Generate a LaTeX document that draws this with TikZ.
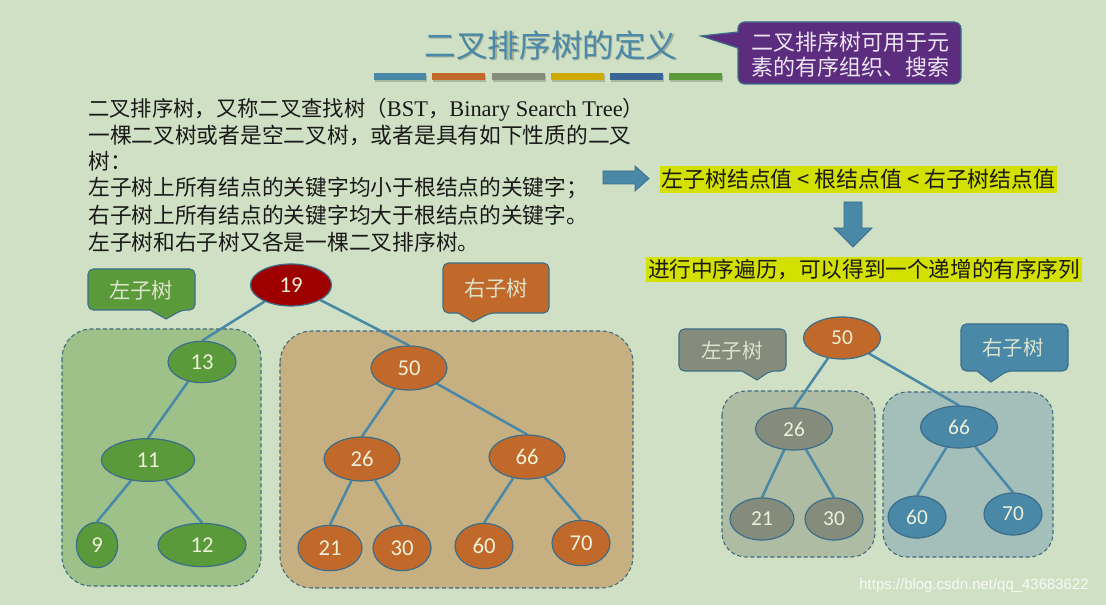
\documentclass[tikz,border=0pt]{standalone}
\usepackage{fontspec}
\setmainfont{Noto Sans CJK SC}
\newfontfamily\tms{Liberation Serif}
\newfontfamily\calf{Carlito}
\newfontfamily\arl{Liberation Sans}
\usetikzlibrary{shapes.geometric}
\pgfdeclarelayer{bgl}
\pgfdeclarelayer{edl}
\pgfsetlayers{bgl,edl,main}
\definecolor{bg}{HTML}{D0E0C4}
\definecolor{tblue}{HTML}{4A88A8}
\definecolor{torange}{HTML}{C0692A}
\definecolor{tgray}{HTML}{858C7C}
\definecolor{tgold}{HTML}{CFA800}
\definecolor{tdblue}{HTML}{3B6496}
\definecolor{tgreen}{HTML}{5A9A3A}
\definecolor{tred}{HTML}{9E0000}
\definecolor{tpurple}{HTML}{5C2C7E}
\definecolor{nborder}{HTML}{3C6E8A}
\definecolor{ntext}{HTML}{EEF0DA}
\definecolor{hl}{HTML}{D4E000}
\definecolor{lgbox}{HTML}{9EC18A}
\definecolor{rgbox}{HTML}{C6B082}
\definecolor{sgbox}{HTML}{ADBCA3}
\definecolor{sbbox}{HTML}{A4BEBA}
\definecolor{dashc}{HTML}{3E6A80}
\definecolor{calltext}{HTML}{DCE4CC}
\definecolor{purpletext}{HTML}{EDE6F2}
\tikzset{
  txt/.style={font=\fontsize{16.3}{20}\selectfont, inner sep=0pt, anchor=west, text=black!90},
  tn/.style={ellipse, draw=nborder, line width=0.9pt, inner sep=0pt, text=ntext, font=\calf\fontsize{17}{17}\selectfont},
  tns/.style={tn, font=\calf\fontsize{16}{16}\selectfont},
  edge/.style={draw=tblue, line width=1.9pt},
  grp/.style={draw=dashc, dash pattern=on 3pt off 2pt, line width=0.8pt},
  callbox/.style={draw=nborder, line width=0.8pt, rounded corners=4pt},
  calltxt/.style={text=calltext, font=\fontsize{16}{16}\selectfont, inner sep=0pt},
  hlbox/.style={fill=hl, inner xsep=1.5pt, inner ysep=0pt, text=black!90},
  blockarrow/.style={fill=tblue, draw=nborder, line width=0.6pt}
}
\begin{document}
\begin{tikzpicture}[x=0.75pt,y=-0.75pt]
\begin{pgfonlayer}{bgl}
\fill[bg] (0,0) rectangle (1106,605);
\end{pgfonlayer}
\useasboundingbox (0,0) rectangle (1106,605);

% title
\node[opacity=0.22, font=\fontsize{23.7}{24}\selectfont, inner sep=0pt, text=black] (titleshadow) at (552.3,46.3) {二叉排序树的定义};
\node[text=tblue, font=\fontsize{23.7}{24}\selectfont, inner sep=0pt] (title) at (551,45) {二叉排序树的定义};
% colour bars
\foreach \xa/\xb/\c in {374/426/tblue, 432/485/torange, 492/545/tgray, 551/604/tgold, 610/663/tdblue, 669/722/tgreen}{
  \fill[black, opacity=0.18] (\xa+1,75) rectangle (\xb+1,82);
  \fill[\c] (\xa,73) rectangle (\xb,80);
}
% purple callout
\filldraw[fill=tpurple, draw=nborder, line width=0.9pt, rounded corners=5pt]
  (961,22) -- (961,84) -- (738,84) [sharp corners] -- (738,48) -- (701,36) -- (738,32) [rounded corners=5pt] -- (738,22) -- cycle;
\node[text=purpletext, font=\fontsize{16.5}{18.7}\selectfont, align=center, inner sep=0pt] (pc) at (850,54.5) {二叉排序树可用于元\\素的有序组织、搜索};

% main text
\node[txt, font=\fontsize{16}{20}\selectfont] (l1) at (88,110) {二叉排序树，又称二叉查找树（{\tms\fontsize{16.8}{20}\selectfont BST}，{\tms\fontsize{16.8}{20}\selectfont Binary Search Tree}）};
\node[txt] (l2) at (88,135) {一棵二叉树或者是空二叉树，或者是具有如下性质的二叉};
\node[txt] (l3) at (88,161) {树：};
\node[txt] (l4) at (88,188) {左子树上所有结点的关键字均小于根结点的关键字；};
\node[txt] (l5) at (88,215) {右子树上所有结点的关键字均大于根结点的关键字。};
\node[txt] (l6) at (88,242) {左子树和右子树又各是一棵二叉排序树。};

% block arrows and highlighted statements
\filldraw[blockarrow] (603,171) -- (635,171) -- (635,166) -- (649,178.5) -- (635,191) -- (635,184) -- (603,184) -- cycle;
\node[hlbox, minimum height=20pt, font=\fontsize{16.4}{17}\selectfont] (h1) at (858.5,179.5) {左子树结点值 < 根结点值 < 右子树结点值};
\filldraw[blockarrow] (844,202) -- (862,202) -- (862,228) -- (872,228) -- (853,247) -- (834,228) -- (844,228) -- cycle;
\node[hlbox, minimum height=19pt, font=\fontsize{16.2}{16}\selectfont] (h2) at (864,269.5) {进行中序遍历，可以得到一个递增的有序序列};

% ===== left big tree =====
\begin{pgfonlayer}{bgl}
\filldraw[grp, fill=lgbox, rounded corners=22pt] (62,329) rectangle (261,586);
\filldraw[grp, fill=rgbox, rounded corners=24pt] (280,331) rectangle (633,588);
\end{pgfonlayer}
\filldraw[callbox, fill=tgreen] (88,269) -- (195,269) -- (195,310) -- (182,310) [sharp corners] -- (166,319) -- (150,310) [rounded corners=4pt] -- (88,310) -- cycle;
\node[calltxt] (cl1) at (141,290) {左子树};
\filldraw[callbox, fill=torange] (443,263) -- (549,263) -- (549,313) -- (490,313) [sharp corners] -- (473,322) -- (458,313) [rounded corners=4pt] -- (443,313) -- cycle;
\node[calltxt] (cr1) at (496,288) {右子树};

\node[tn, fill=tred, minimum width=60.75pt, minimum height=31.5pt] (a19) at (291,285) {19};
\node[tn, fill=tgreen, minimum width=51pt, minimum height=31pt] (a13) at (202,362) {13};
\node[tn, fill=tgreen, minimum width=70pt, minimum height=32pt] (a11) at (148,460) {11};
\node[tn, fill=tgreen, minimum width=31pt, minimum height=34pt] (a9) at (97,545) {9};
\node[tn, fill=tgreen, minimum width=66pt, minimum height=32.5pt] (a12) at (202,545) {12};
\node[tn, fill=torange, minimum width=57pt, minimum height=33pt] (a50) at (409,368) {50};
\node[tn, fill=torange, minimum width=57pt, minimum height=33pt] (a26) at (362,459) {26};
\node[tn, fill=torange, minimum width=57pt, minimum height=33pt] (a66) at (527,457) {66};
\node[tn, fill=torange, minimum width=48pt, minimum height=34pt] (a21) at (330,548) {21};
\node[tn, fill=torange, minimum width=43.5pt, minimum height=34pt] (a30) at (402,548) {30};
\node[tn, fill=torange, minimum width=43.5pt, minimum height=34pt] (a60) at (484,546) {60};
\node[tn, fill=torange, minimum width=43.5pt, minimum height=34pt] (a70) at (581,543) {70};
\begin{pgfonlayer}{edl}
\draw[edge] (a19) -- (a13.north);
\draw[edge] (a19) -- (a50.north);
\draw[edge] (a13) -- (a11.north);
\draw[edge] (a11) -- (a9.north);
\draw[edge] (a11) -- (a12.north);
\draw[edge] (a50) -- (a26.north);
\draw[edge] (a50) -- (a66.north);
\draw[edge] (a26) -- (a21.north);
\draw[edge] (a26) -- (a30.north);
\draw[edge] (a66) -- (a60.north);
\draw[edge] (a66) -- (a70.north);
\end{pgfonlayer}

% ===== right small tree =====
\begin{pgfonlayer}{bgl}
\filldraw[grp, fill=sgbox, rounded corners=18pt] (722,391) rectangle (875,557);
\filldraw[grp, fill=sbbox, rounded corners=18pt] (883,392) rectangle (1053,557);
\end{pgfonlayer}
\filldraw[callbox, fill=tgray] (679,329) -- (786,329) -- (786,371) -- (770,371) [sharp corners] -- (757,380) -- (742,371) [rounded corners=4pt] -- (679,371) -- cycle;
\node[calltxt, font=\fontsize{15.3}{15}\selectfont] (cl2) at (732,351) {左子树};
\filldraw[callbox, fill=tblue] (961,324) -- (1068,324) -- (1068,371) -- (1007,371) [sharp corners] -- (991,382) -- (977,371) [rounded corners=4pt] -- (961,371) -- cycle;
\node[calltxt, font=\fontsize{15.3}{15}\selectfont] (cr2) at (1013,348) {右子树};

\node[tns, fill=torange, minimum width=57.75pt, minimum height=31.5pt] (b50) at (842,338) {50};
\node[tns, fill=tgray, minimum width=57.75pt, minimum height=31.5pt] (b26) at (794,429) {26};
\node[tns, fill=tblue, minimum width=57.75pt, minimum height=31.5pt] (b66) at (959,427) {66};
\node[tns, fill=tgray, minimum width=48pt, minimum height=31.5pt] (b21) at (762,519) {21};
\node[tns, fill=tgray, minimum width=43.5pt, minimum height=31.5pt] (b30) at (834,519) {30};
\node[tns, fill=tblue, minimum width=43.5pt, minimum height=31.5pt] (b60) at (917,517) {60};
\node[tns, fill=tblue, minimum width=43.5pt, minimum height=31.5pt] (b70) at (1013,514) {70};
\begin{pgfonlayer}{edl}
\draw[edge] (b50) -- (b26.north);
\draw[edge] (b50) -- (b66.north);
\draw[edge] (b26) -- (b21.north);
\draw[edge] (b26) -- (b30.north);
\draw[edge] (b66) -- (b60.north);
\draw[edge] (b66) -- (b70.north);
\end{pgfonlayer}

% watermark
\node[text=white, opacity=0.85, font=\arl\fontsize{11.2}{12}\selectfont, inner sep=0pt] (wm) at (974,586) {https://blog.csdn.net/qq\_43683622};
\end{tikzpicture}
\end{document}
